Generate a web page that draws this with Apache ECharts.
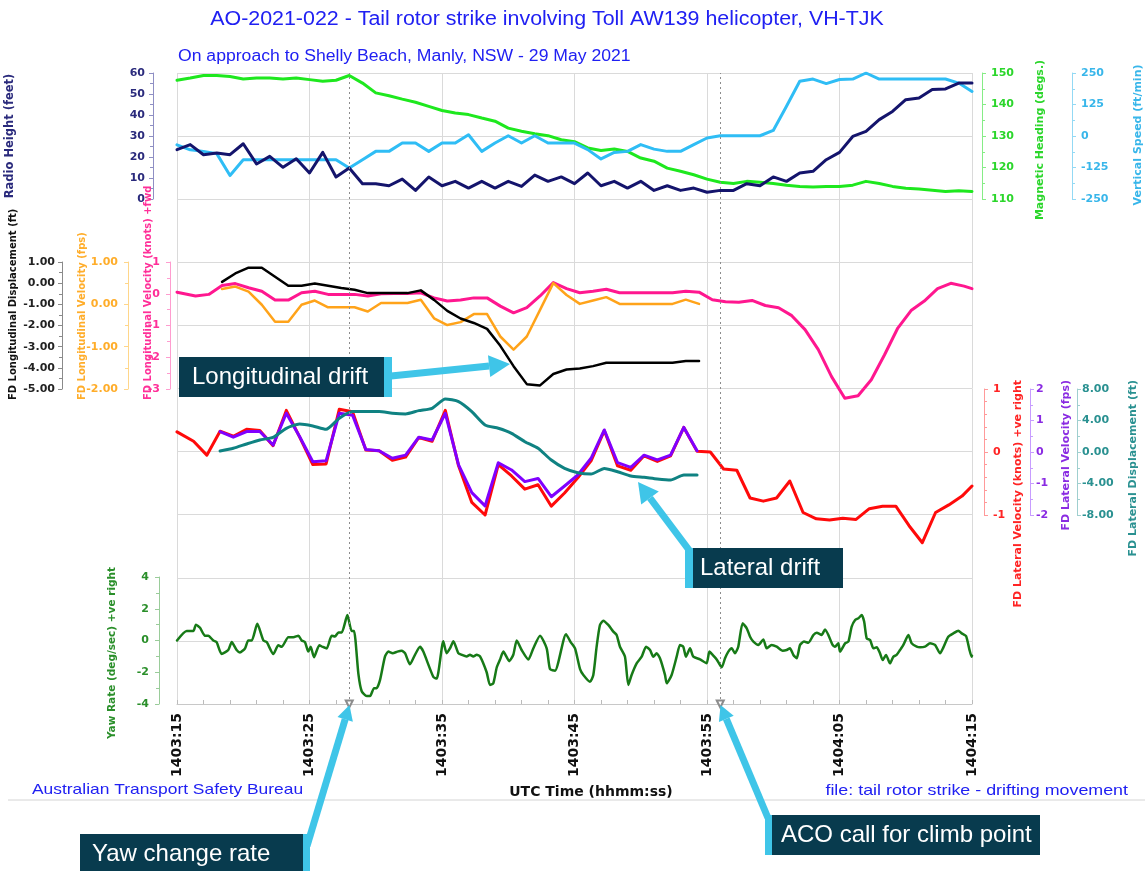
<!DOCTYPE html>
<html>
<head>
<meta charset="utf-8">
<script src="https://cdn.jsdelivr.net/npm/echarts/dist/echarts.min.js"></script>
<style>
  html, body { margin: 0; padding: 0; background: #ffffff; }
  #chart { width: 1145px; height: 871px; }
</style>
</head>
<body>
<div id="chart"></div>
<script>
// Flight data recorder traces, seconds after 14:03:15 UTC

// x-axis tick labels (every 10 s)
const timeLabels = ['1403:15', '1403:25', '1403:35', '1403:45', '1403:55', '1404:05', '1404:15'];
// events marked with dotted verticals (s after 14:03:15)
const eventTimes = [13, 41];

// sample times for regularly sampled parameters
function seconds(start, count) {
  const out = [];
  for (let i = 0; i < count; i++) out.push(Math.round((start + i) * 100) / 100);
  return out;
}

// --- top panel, 1 Hz ---
const topT = seconds(0, 61);
const radioHeight = [23.5, 25.9, 21.1, 21.9, 21.1, 26.3, 16.7, 20.3, 15.1, 19.2,
  12.4, 22.2, 10.5, 14.8, 7.3, 7.3, 6.3, 9.5, 4.1, 10.5,
  6.3, 8.4, 5.2, 8.4, 5.2, 8.4, 6.0, 11.4, 8.4, 10.5,
  7.3, 12.4, 6.3, 8.4, 5.2, 8.4, 4.1, 6.3, 4.1, 5.2,
  3.2, 4.1, 4.1, 7.3, 6.3, 10.5, 8.4, 12.4, 13.2, 18.7,
  22.2, 29.8, 32.2, 37.8, 41.7, 47.3, 48.1, 52.1, 52.4, 55.2, 55.2];
const magHeading = [147.7, 148.4, 149.2, 149.2, 148.9, 148.1, 148.4, 148.4, 148.1, 148.4,
  147.9, 147.4, 147.7, 149.2, 146.8, 143.7, 142.8, 141.7, 140.7, 139.4,
  138.1, 137.3, 136.8, 135.7, 134.7, 132.5, 131.5, 130.7, 130.1, 128.8,
  128.2, 126.2, 125.4, 125.9, 125.1, 123.0, 122.0, 119.8, 118.8, 117.7,
  116.3, 115.3, 114.9, 115.6, 115.3, 114.9, 114.4, 114.0, 113.8, 114.0,
  114.0, 114.4, 115.6, 114.9, 114.0, 113.4, 113.2, 112.8, 112.4, 112.6, 112.4];
const vertSpeed = [-35, -55, -61, -70, -157, -94, -94, -94, -94, -94,
  -94, -94, -94, -127, -94, -61, -61, -28, -28, -61,
  -28, -28, 5, -61, -28, 1, -28, 1, -28, -28,
  -28, -54, -91, -65, -61, -34, -52, -61, -61, -34,
  -8, 1, 1, 1, 1, 22, 118, 217, 226, 208,
  224, 226, 250, 226, 226, 226, 226, 226, 226, 210, 177];

// --- longitudinal ---
const longKtsT = [0].concat(seconds(1.4, 59), [60]);
const longKts = [0.05,
  -0.07, -0.02, 0.26, 0.32, 0.19, 0.08, -0.2, -0.2, 0.03,
  0.08, -0.02, -0.02, -0.02, -0.07, 0.0, 0.01, 0.01, 0.03, -0.13,
  -0.23, -0.2, -0.13, -0.13, -0.39, -0.6, -0.44, -0.07, 0.35, 0.16,
  0.03, 0.08, 0.14, 0.03, 0.03, 0.03, 0.03, 0.03, 0.08, 0.05,
  -0.19, -0.25, -0.27, -0.21, -0.37, -0.44, -0.69, -1.13, -1.76, -2.61,
  -3.29, -3.21, -2.71, -1.92, -1.08, -0.53, -0.23, 0.16, 0.33, 0.24,
  0.16];
const longFdT = seconds(3.4, 37);
const longFps = [0.36, 0.42, 0.30, -0.01, -0.41, -0.41, -0.01, 0.09, -0.07, -0.07,
  -0.07, -0.17, 0.03, 0.03, 0.03, 0.11, -0.33, -0.49, -0.42, -0.23,
  -0.23, -0.76, -1.07, -0.76, -0.13, 0.5, 0.22, 0.01, 0.09, 0.17,
  0.01, 0.01, 0.01, 0.01, 0.01, 0.11, 0.01];
const longDisp = [0.06, 0.46, 0.73, 0.73, 0.3, -0.12, -0.12, -0.02, -0.12, -0.23,
  -0.31, -0.47, -0.47, -0.47, -0.47, -0.34, -0.79, -1.31, -1.67, -1.88,
  -2.16, -2.96, -3.92, -4.77, -4.83, -4.29, -4.08, -4.03, -3.92, -3.76,
  -3.76, -3.76, -3.76, -3.76, -3.76, -3.68, -3.68];

// --- lateral ---
const latKtsT = [0].concat(seconds(1.25, 59), [60]);
const latKts = [0.32,
  0.17, -0.05, 0.33, 0.25, 0.36, 0.34, 0.1, 0.66, 0.24,
  -0.2, -0.19, 0.68, 0.64, 0.03, 0.02, -0.13, -0.08, 0.23, 0.17,
  0.66, -0.22, -0.8, -1.0, -0.2, -0.38, -0.59, -0.52, -0.86, -0.65,
  -0.41, -0.14, 0.34, -0.22, -0.29, -0.06, -0.15, -0.06, 0.39, 0.01,
  0.0, -0.27, -0.29, -0.73, -0.78, -0.73, -0.46, -0.96, -1.06, -1.08,
  -1.05, -1.07, -0.9, -0.86, -0.86, -1.17, -1.44, -0.96, -0.84, -0.7,
  -0.54];
const latFdT = seconds(3.25, 37);
const latFps = [0.65, 0.47, 0.65, 0.65, 0.22, 1.23, 0.49, -0.31, -0.28, 1.23,
  1.17, 0.08, 0.04, -0.2, -0.1, 0.47, 0.38, 1.23, -0.41, -1.29,
  -1.71, -0.34, -0.57, -0.94, -0.84, -1.42, -1.08, -0.73, -0.2, 0.7,
  -0.34, -0.49, -0.1, -0.25, -0.1, 0.78, 0.04];
const latDisp = [0.13, 0.47, 1.02, 1.53, 1.86, 3.01, 3.56, 3.31, 2.88, 4.28,
  5.13, 5.13, 5.13, 4.92, 4.83, 5.25, 5.55, 6.74, 6.4, 5.13,
  3.43, 3.01, 2.37, 1.31, 0.47, -1.02, -2.08, -2.63, -2.8, -2.08,
  -2.5, -3.05, -3.22, -3.43, -3.56, -2.92, -2.92];

// --- yaw rate ---
const yawT = [0, 0.73, 1.23, 1.43, 1.74, 2.11, 2.36, 2.74, 2.99, 3.37,
  3.87, 4.13, 4.5, 4.75, 5.13, 5.38, 5.64, 6.06, 6.52, 6.77,
  7.27, 7.65, 7.9, 8.4, 8.78, 9.16, 9.41, 9.66, 9.91, 10.09,
  10.34, 10.74, 10.99, 11.3, 11.67, 11.92, 12.18, 12.43, 12.86, 13.18,
  13.36, 13.69, 13.94, 14.32, 14.57, 14.87, 15.07, 15.32, 15.7, 15.95,
  16.28, 16.63, 16.96, 17.21, 17.58, 17.96, 18.34, 18.59, 19.35, 19.6,
  20.1, 20.35, 20.6, 20.86, 21.23, 21.48, 21.86, 22.11, 22.36, 22.62,
  22.87, 23.37, 23.62, 23.87, 24.13, 24.38, 24.63, 25.08, 25.38, 25.64,
  26.01, 26.52, 26.89, 27.4, 27.9, 28.15, 28.53, 29.36, 29.71, 30.04,
  30.42, 30.67, 31.17, 31.42, 31.67, 31.92, 32.18, 32.55, 32.93, 33.18,
  33.43, 33.81, 34.06, 34.31, 34.69, 35.07, 35.4, 35.7, 35.95, 36.2,
  36.45, 36.83, 36.96, 37.33, 37.71, 37.96, 38.21, 38.41, 38.72, 38.97,
  39.47, 39.97, 40.18, 40.43, 40.73, 41.11, 41.36, 41.61, 41.86, 42.11,
  42.36, 42.69, 43.0, 43.25, 43.5, 43.88, 44.25, 44.5, 44.88, 45.26,
  45.71, 46.01, 46.26, 46.52, 46.77, 47.02, 47.32, 47.65, 48.03, 48.28,
  48.65, 48.91, 49.16, 49.48, 49.66, 49.91, 50.04, 50.42, 50.67, 50.92,
  51.18, 51.43, 51.68, 51.86, 52.05, 52.31, 52.56, 52.81, 53.06, 53.26,
  53.51, 53.81, 54.06, 54.31, 54.57, 54.82, 55.2, 55.45, 55.83, 56.08,
  56.45, 56.83, 57.21, 57.59, 57.84, 58.21, 58.59, 58.97, 59.22, 59.55,
  59.8, 59.97, 60];
const yawRate = [0.0, 0.6, 0.6, 1.0, 0.8, 0.3, 0.3, 0.0, -0.1, -0.85,
  -0.6, -0.1, -0.6, -0.75, -0.5, 0.0, 0.0, 1.05, 0.0, -0.1,
  -0.85, -0.3, -0.4, 0.2, 0.2, 0.3, 0.0, -0.1, -0.7, -0.4,
  -1.05, -0.3, -0.4, -0.5, 0.3, 0.25, 0.5, 0.5, 1.6, 0.6,
  0.6, -2.1, -3.2, -3.5, -3.5, -3.0, -3.0, -2.5, -1.0, -0.7,
  -0.8, -0.7, -0.65, -0.8, -1.5, -0.9, -0.4, -0.7, -2.3, -2.4,
  -0.05, -0.8, -0.5, -0.05, -0.8, -0.9, -1.0, -0.9, -1.0, -0.9,
  -1.0, -2.0, -2.8, -2.7, -1.7, -1.2, -0.7, -1.3, -0.9, 0.0,
  -0.6, -1.2, -0.5, 0.3, -0.5, -1.8, -1.9, 0.4, -0.1, -0.5,
  -1.8, -2.17, -2.6, -2.17, -0.39, 0.98, 1.25, 0.98, 0.56, 0.35,
  -0.39, -1.02, -2.8, -2.17, -1.44, -1.02, -0.39, -0.6, -1.02, -0.81,
  -1.12, -2.17, -2.7, -2.17, -1.02, -0.28, -0.39, -1.02, -0.49, -1.02,
  -1.19, -1.44, -0.7, -0.91, -1.19, -1.69, -1.12, -0.7, -0.49, -0.81,
  -0.39, 1.08, 0.77, 0.24, -0.07, -0.28, 0.07, -0.49, -0.28, -0.39,
  -0.64, -0.6, -0.49, -0.91, -1.12, -0.28, -0.07, -0.14, 0.35, 0.49,
  0.35, 0.7, 0.35, -0.28, -0.39, -0.18, -0.7, -0.18, -0.07, 0.87,
  1.29, 1.4, 1.61, 1.19, 0.14, 0.03, -0.49, -0.43, -0.81, -1.23,
  -0.91, -1.44, -1.02, -0.91, -0.6, -0.28, 0.35, -0.18, -0.39, -0.43,
  -0.39, -0.18, -0.28, -0.81, -0.43, 0.24, 0.45, 0.62, 0.45, 0.28,
  -0.56, -1.02, -0.95];

function pair(ts, vs) { return ts.map((t, i) => [t, vs[i]]); }

const AXIS_FONT = 'DejaVu Sans';
const GRID_COLOR = '#dadada';
const BLUE_TEXT = '#2020f2';

const plotLeft = 177, plotWidth = 795;
const grids = [
  { left: plotLeft, width: plotWidth, top: 73, height: 631 },  // frame with grid lines
  { left: plotLeft, width: plotWidth, top: 73, height: 126 },  // height / heading / vertical speed
  { left: plotLeft, width: plotWidth, top: 262, height: 127 }, // longitudinal
  { left: plotLeft, width: plotWidth, top: 389, height: 126 }, // lateral
  { left: plotLeft, width: plotWidth, top: 577, height: 127 }  // yaw rate
];

const xAxes = grids.map((g, i) => {
  const base = { type: 'value', gridIndex: i, min: 0, max: 60, interval: 10 };
  if (i === 0) {
    return Object.assign(base, {
      axisLine: { show: false }, axisTick: { show: false }, axisLabel: { show: false },
      splitLine: { show: true, lineStyle: { color: GRID_COLOR, width: 1 } }
    });
  }
  if (i === 4) {
    return Object.assign(base, {
      position: 'bottom',
      axisLine: { show: true, onZero: false, lineStyle: { color: '#c8c8c8' } },
      axisTick: { show: true, inside: true, length: 4, lineStyle: { color: '#bbbbbb' } },
      minorTick: { show: true, splitNumber: 5, length: 4, lineStyle: { color: '#bbbbbb' } },
      splitLine: { show: false },
      axisLabel: {
        show: true, rotate: 90, margin: 9, color: '#111111',
        fontFamily: AXIS_FONT, fontWeight: 'bold', fontSize: 14,
        formatter: v => timeLabels[Math.round(v / 10)]
      }
    });
  }
  return Object.assign(base, { show: false });
});

function yAxis(o) {
  return {
    type: 'value', gridIndex: o.grid, position: o.side, offset: o.offset,
    min: o.min, max: o.max, interval: o.interval,
    axisLine: { show: true, onZero: false, lineStyle: { color: o.line, width: 1 } },
    axisTick: { show: true, length: 4, lineStyle: { color: o.line } },
    minorTick: { show: true, splitNumber: o.minor, length: 3, lineStyle: { color: o.line } },
    splitLine: { show: false },
    axisLabel: {
      color: o.label, fontFamily: AXIS_FONT, fontWeight: 'bold', fontSize: 11,
      margin: o.margin, formatter: o.fmt || (v => String(v))
    }
  };
}
const fix2 = v => v.toFixed(2);

const yAxes = [
  { type: 'value', gridIndex: 0, min: 0, max: 10, interval: 1,
    axisLine: { show: false }, axisTick: { show: false }, axisLabel: { show: false },
    splitLine: { show: true, lineStyle: { color: GRID_COLOR, width: 1 } } },
  yAxis({ grid: 1, side: 'left', offset: 24, min: 0, max: 60, interval: 10, minor: 2, margin: 8, line: '#8f8fc4', label: '#2a2a7c' }),
  yAxis({ grid: 1, side: 'right', offset: 10, min: 110, max: 150, interval: 10, minor: 2, margin: 9, line: '#86ec86', label: '#2bd62b' }),
  yAxis({ grid: 1, side: 'right', offset: 100, min: -250, max: 250, interval: 125, minor: 2, margin: 9, line: '#93d9f4', label: '#38b6ea' }),
  yAxis({ grid: 2, side: 'left', offset: 115, min: -5, max: 1, interval: 1, minor: 2, margin: 7, line: '#8a8a8a', label: '#222222', fmt: fix2 }),
  yAxis({ grid: 2, side: 'left', offset: 49, min: -2, max: 1, interval: 1, minor: 2, margin: 10, line: '#ffd68a', label: '#ffad2a', fmt: fix2 }),
  yAxis({ grid: 2, side: 'left', offset: 7, min: -3, max: 1, interval: 1, minor: 2, margin: 10, line: '#ff9ccf', label: '#ff2f98' }),
  yAxis({ grid: 3, side: 'right', offset: 12, min: -1, max: 1, interval: 1, minor: 5, margin: 9, line: '#ff9a9a', label: '#ff2424' }),
  yAxis({ grid: 3, side: 'right', offset: 58, min: -2, max: 2, interval: 1, minor: 2, margin: 6, line: '#c79cff', label: '#8a2be2' }),
  yAxis({ grid: 3, side: 'right', offset: 105, min: -8, max: 8, interval: 4, minor: 2, margin: 5, line: '#9fcfcf', label: '#2a9191', fmt: fix2 }),
  yAxis({ grid: 4, side: 'left', offset: 18, min: -4, max: 4, interval: 2, minor: 2, margin: 10, line: '#9acc9a', label: '#2a8f2a' })
];

function lineSeries(name, xi, yi, data, color, width, extra) {
  return Object.assign({
    type: 'line', name, xAxisIndex: xi, yAxisIndex: yi, data,
    showSymbol: false, symbol: 'none', animation: false,
    lineStyle: { color, width, join: 'round', cap: 'round' }, itemStyle: { color }
  }, extra || {});
}

const series = [
  {
    type: 'line', name: 'events', xAxisIndex: 0, yAxisIndex: 0, data: [], silent: true,
    markLine: {
      silent: true, symbol: ['emptyTriangle', 'none'], symbolSize: 7, animation: false,
      label: { show: false },
      lineStyle: { color: '#8c8c8c', type: [2, 3], width: 1 },
      data: eventTimes.map(t => ({ xAxis: t }))
    }
  },
  lineSeries('Magnetic Heading', 1, 2, pair(topT, magHeading), '#1ee81e', 3),
  lineSeries('Vertical Speed', 1, 3, pair(topT, vertSpeed), '#2fbdf5', 3),
  lineSeries('Radio Height', 1, 1, pair(topT, radioHeight), '#14146c', 3),

  lineSeries('FD Longitudinal Velocity (knots)', 2, 6, pair(longKtsT, longKts), '#ff178f', 3, { clip: false }),
  lineSeries('FD Longitudinal Velocity (fps)', 2, 5, pair(longFdT, longFps), '#ffa31a', 2.5),
  lineSeries('FD Longitudinal Displacement', 2, 4, pair(longFdT, longDisp), '#000000', 2.5),

  lineSeries('FD Lateral Velocity (knots)', 3, 7, pair(latKtsT, latKts), '#ff0a0a', 3, { clip: false }),
  lineSeries('FD Lateral Velocity (fps)', 3, 8, pair(latFdT, latFps), '#8000ff', 3),
  lineSeries('FD Lateral Displacement', 3, 9, pair(latFdT, latDisp), '#0f8282', 3, { smooth: 0.2 }),

  lineSeries('Yaw Rate', 4, 10, pair(yawT, yawRate), '#177a17', 2.5, { smooth: 0.2 })
];

// rotated axis titles
function axisTitle(text, x, y, color, align, size) {
  return {
    type: 'text', x, y, rotation: Math.PI / 2, silent: true, z: 50,
    style: {
      text, fill: color, font: 'bold ' + (size || 11) + 'px "DejaVu Sans"',
      textAlign: align || 'center', textVerticalAlign: 'middle'
    }
  };
}

// plain caption text, widened slightly to the caption lettering
function caption(text, x, y, size, align, scaleX) {
  return {
    type: 'text', x, y, scaleX: scaleX || 1, silent: true, z: 50,
    style: {
      text, fill: BLUE_TEXT, font: size + 'px "Liberation Sans"',
      textAlign: align, textVerticalAlign: 'middle'
    }
  };
}

// callout box with its accent strip and arrow, drawn above the plot
const CALLOUT_BG = '#083b4e';
const CALLOUT_ACCENT = '#3fc5e8';
function callout(o) {
  const Z = 100;
  const els = [];
  els.push({ type: 'rect', z: Z, shape: { x: o.box[0], y: o.box[1], width: o.box[2], height: o.box[3] }, style: { fill: CALLOUT_BG }, silent: true });
  els.push({ type: 'rect', z: Z, shape: { x: o.strip[0], y: o.strip[1], width: o.strip[2], height: o.strip[3] }, style: { fill: CALLOUT_ACCENT }, silent: true });
  els.push({
    type: 'text', z: Z + 1, x: o.text[0], y: o.text[1], silent: true,
    style: { text: o.label, fill: '#ffffff', font: '24px "Liberation Sans"', textAlign: 'left', textVerticalAlign: 'middle' }
  });
  const [x0, y0] = o.from, [x1, y1] = o.to;
  const len = Math.hypot(x1 - x0, y1 - y0);
  const dx = (x1 - x0) / len, dy = (y1 - y0) / len;
  const bx = x1 - dx * o.head, by = y1 - dy * o.head;
  const nx = -dy, ny = dx;
  els.push({ type: 'line', z: Z, shape: { x1: x0, y1: y0, x2: bx, y2: by }, style: { stroke: CALLOUT_ACCENT, lineWidth: 7 }, silent: true });
  els.push({
    type: 'polygon', z: Z, silent: true,
    shape: { points: [[x1, y1], [bx + nx * o.half, by + ny * o.half], [bx - nx * o.half, by - ny * o.half]] },
    style: { fill: CALLOUT_ACCENT }
  });
  return els;
}

const graphic = [].concat(
  [
    caption('AO-2021-022 - Tail rotor strike involving Toll AW139 helicopter, VH-TJK', 547, 19, 20, 'center', 1.07),
    caption('On approach to Shelly Beach, Manly, NSW - 29 May 2021', 178, 57, 16, 'left', 1.1),
    caption('Australian Transport Safety Bureau', 32, 790, 15, 'left', 1.16),
    caption('file: tail rotor strike - drifting movement', 1128, 791, 15, 'right', 1.19),
    { type: 'text', x: 591, y: 792, silent: true, z: 50,
      style: { text: 'UTC Time (hhmm:ss)', fill: '#111111', font: 'bold 14px "DejaVu Sans"', textAlign: 'center', textVerticalAlign: 'middle' } },
    { type: 'line', silent: true, z: 50, shape: { x1: 8, y1: 800, x2: 1145, y2: 800 }, style: { stroke: '#d4d4d4', lineWidth: 1 } },

    axisTitle('Radio Height (feet)', 10, 136, '#2a2a7c', 'center', 11.5),
    axisTitle('Magnetic Heading (degs.)', 1040, 140, '#2bd62b'),
    axisTitle('Vertical Speed (ft/min)', 1138, 135, '#38b6ea'),
    axisTitle('FD Longitudinal Displacement (ft)', 13, 400, '#111111', 'left', 10),
    axisTitle('FD Longitudinal Velocity (fps)', 82, 400, '#ffad2a', 'left', 10),
    axisTitle('FD Longitudinal Velocity (knots) +fwd', 148, 400, '#ff2f98', 'left', 10),
    axisTitle('FD Lateral Velocity (knots) +ve right', 1018, 380, '#ff2424', 'right'),
    axisTitle('FD Lateral Velocity (fps)', 1066, 380, '#8a2be2', 'right'),
    axisTitle('FD Lateral Displacement (ft)', 1133, 380, '#2a9191', 'right'),
    axisTitle('Yaw Rate (deg/sec) +ve right', 112, 567, '#2a8f2a', 'right', 10.5)
  ],
  callout({ label: 'Longitudinal drift', box: [179, 357, 205, 40], strip: [384, 357, 8, 40], text: [192, 377],
            from: [391, 376], to: [510, 364], head: 21, half: 11 }),
  callout({ label: 'Lateral drift', box: [692, 548, 151, 40], strip: [685, 548, 8, 40], text: [700, 568],
            from: [689, 550], to: [638, 482], head: 20, half: 11 }),
  callout({ label: 'Yaw change rate', box: [80, 834, 224, 37], strip: [303, 834, 7, 37], text: [92, 854],
            from: [307, 846], to: [349.5, 705], head: 15, half: 8 }),
  callout({ label: 'ACO call for climb point', box: [772, 815, 268, 40], strip: [765, 815, 7, 40], text: [781, 835],
            from: [768, 818], to: [720.5, 705], head: 15, half: 8 })
);

const chart = echarts.init(document.getElementById('chart'), null, { renderer: 'canvas' });
chart.setOption({
  backgroundColor: '#ffffff',
  animation: false,
  grid: grids,
  xAxis: xAxes,
  yAxis: yAxes,
  series,
  graphic
});
</script>
</body>
</html>
